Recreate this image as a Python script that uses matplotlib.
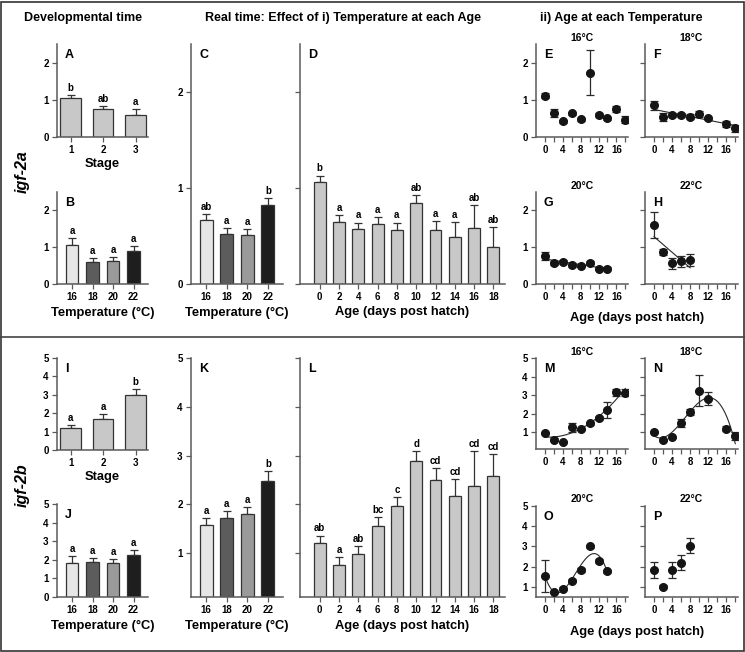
import numpy as np
import matplotlib
matplotlib.use('Agg')
from matplotlib import pyplot as plt
from matplotlib import transforms
from matplotlib.patches import Rectangle
from matplotlib.lines import Line2D

plt.rcParams.update({'font.family': 'Liberation Sans',
                     'font.weight': 'bold',
                     'axes.labelweight': 'bold'})

W, H = 745, 652
SPINE = '#5a5a5a'
EDGE = '#333333'

#---- Data

stages = ['1', '2', '3']
temps = ['16', '18', '20', '22']
ages = [0, 2, 4, 6, 8, 10, 12, 14, 16, 18]

# igf-2a
a_mean = [1.05, 0.75, 0.60]
a_err = [0.09, 0.09, 0.15]
a_sig = ['b', 'ab', 'a']

b_mean = [1.07, 0.59, 0.62, 0.89]
b_err = [0.17, 0.11, 0.11, 0.13]
b_sig = ['a', 'a', 'a', 'a']

c_mean = [0.67, 0.52, 0.51, 0.82]
c_err = [0.06, 0.06, 0.06, 0.08]
c_sig = ['ab', 'a', 'a', 'b']

d_mean = [1.06, 0.65, 0.57, 0.63, 0.56, 0.84, 0.56, 0.49, 0.58, 0.39]
d_err = [0.07, 0.07, 0.07, 0.07, 0.08, 0.09, 0.10, 0.16, 0.24, 0.20]
d_sig = ['b', 'a', 'a', 'a', 'a', 'ab', 'a', 'a', 'ab', 'ab']

e_x = [0, 2, 4, 6, 8, 10, 12, 14, 16, 18]
e_y = [1.11, 0.64, 0.42, 0.64, 0.48, 1.73, 0.59, 0.51, 0.75, 0.47]
e_e = [0.07, 0.10, 0.04, 0.04, 0.04, 0.60, 0.05, 0.04, 0.09, 0.10]

f_x = [0, 2, 4, 6, 8, 10, 12, 16, 18]
f_y = [0.85, 0.53, 0.59, 0.60, 0.55, 0.63, 0.50, 0.36, 0.23]
f_e = [0.12, 0.11, 0.05, 0.05, 0.07, 0.08, 0.05, 0.08, 0.10]

g_x = [0, 2, 4, 6, 8, 10, 12, 14]
g_y = [0.77, 0.57, 0.59, 0.51, 0.50, 0.58, 0.42, 0.42]
g_e = [0.11, 0.05, 0.05, 0.05, 0.04, 0.05, 0.05, 0.05]

h_x = [0, 2, 4, 6, 8]
h_y = [1.60, 0.86, 0.57, 0.62, 0.66]
h_e = [0.35, 0.08, 0.15, 0.15, 0.16]

# igf-2b
i_mean = [1.20, 1.70, 3.00]
i_err = [0.17, 0.23, 0.30]
i_sig = ['a', 'a', 'b']

j_mean = [1.85, 1.90, 1.85, 2.27]
j_err = [0.35, 0.20, 0.20, 0.27]
j_sig = ['a', 'a', 'a', 'a']

k_mean = [1.57, 1.72, 1.80, 2.48]
k_err = [0.14, 0.14, 0.15, 0.21]
k_sig = ['a', 'a', 'a', 'b']

l_mean = [1.20, 0.76, 0.98, 1.56, 1.96, 2.88, 2.49, 2.17, 2.37, 2.58]
l_err = [0.16, 0.16, 0.16, 0.17, 0.18, 0.22, 0.26, 0.35, 0.72, 0.46]
l_sig = ['ab', 'a', 'ab', 'bc', 'c', 'd', 'cd', 'cd', 'cd', 'cd']

m_x = [0, 2, 4, 6, 8, 10, 12, 14, 16, 18]
m_y = [0.94, 0.61, 0.49, 1.26, 1.17, 1.48, 1.78, 2.20, 3.15, 3.13]
m_e = [0.05, 0.06, 0.04, 0.22, 0.06, 0.10, 0.10, 0.41, 0.20, 0.20]

n_x = [0, 2, 4, 6, 8, 10, 12, 16, 18]
n_y = [1.00, 0.58, 0.72, 1.51, 2.09, 3.24, 2.81, 1.20, 0.79]
n_e = [0.05, 0.05, 0.05, 0.20, 0.15, 0.85, 0.35, 0.15, 0.20]

o_x = [0, 2, 4, 6, 8, 10, 12, 14]
o_y = [1.53, 0.77, 0.90, 1.31, 1.84, 3.00, 2.27, 1.77]
o_e = [0.79, 0.05, 0.07, 0.08, 0.10, 0.08, 0.10, 0.08]

p_x = [0, 2, 4, 6, 8]
p_y = [1.84, 1.00, 1.84, 2.20, 3.04]
p_e = [0.40, 0.07, 0.40, 0.38, 0.38]

bar_gray = '#c8c8c8'
temp_colors = ['#e6e6e6', '#5c5c5c', '#9a9a9a', '#1e1e1e']


#---- Helpers

fig = plt.figure(figsize=(W / 100, H / 100), dpi=100)


def add_axes(l, t, r, b):
    return fig.add_axes([l / W, 1 - b / H, (r - l) / W, (b - t) / H])


def ftext(x, y, s, **kw):
    return fig.text(x / W, 1 - y / H, s, **kw)


def style(ax):
    for s in ['top', 'right']:
        ax.spines[s].set_visible(False)
    for s in ['left', 'bottom']:
        ax.spines[s].set_color(SPINE)
        ax.spines[s].set_linewidth(1.1)
    ax.tick_params(direction='out', length=3.5, width=0.9, color=SPINE,
                   labelsize=7, pad=2.5)


def letter(ax, s):
    tr = transforms.offset_copy(ax.transAxes, fig=fig, x=8, y=-5, units='dots')
    ax.text(0, 1, s, transform=tr, ha='left', va='top', fontsize=9)


def bar_panel(ax, labels, means, errs, sigs, colors, width, xlim, ylim,
              yticks, ylabels=True):
    x = np.arange(len(means))
    ax.errorbar(x, means, yerr=[np.zeros(len(errs)), errs], fmt='none',
                ecolor=EDGE, elinewidth=0.9, capsize=2.8, capthick=0.9,
                zorder=1)
    ax.bar(x, means, width, color=colors, edgecolor=EDGE, linewidth=0.9,
           zorder=2)
    for xi, m, e, s in zip(x, means, errs, sigs):
        ax.annotate(s, (xi, m + e), xytext=(0, 1.5), textcoords='offset points',
                    ha='center', va='bottom', fontsize=7)
    ax.set_xticks(x)
    ax.set_xticklabels(labels)
    ax.set_xlim(*xlim)
    ax.set_ylim(*ylim)
    ax.set_yticks(yticks)
    if not ylabels:
        ax.set_yticklabels([])
    style(ax)


def point_panel(ax, x, y, e, deg, ylim, yticks, ylabels=True):
    ax.errorbar(x, y, yerr=e, fmt='o', color='#151515', ms=5.5,
                ecolor='#2a2a2a', elinewidth=0.9, capsize=3.2, capthick=0.9,
                zorder=3)
    if deg:
        c = np.polyfit(x, y, deg)
        xs = np.linspace(min(x), max(x), 200)
        ax.plot(xs, np.polyval(c, xs), color='#2a2a2a', lw=0.8, zorder=2)
    ax.set_xlim(-2, 18.6)
    ax.set_xticks(ages)
    ax.set_xticklabels([str(a) if a % 4 == 0 else '' for a in ages])
    ax.set_ylim(*ylim)
    ax.set_yticks(yticks)
    if not ylabels:
        ax.set_yticklabels([])
    style(ax)


#---- igf-2a

ax = add_axes(57, 44, 148, 137)
bar_panel(ax, stages, a_mean, a_err, a_sig, bar_gray, 0.63, (-0.42, 2.38),
          (0, 2.5), [0, 1, 2])
ax.set_xlabel('Stage', fontsize=9.3, labelpad=2)
letter(ax, 'A')

ax = add_axes(57, 192, 148, 284)
bar_panel(ax, temps, b_mean, b_err, b_sig, temp_colors, 0.62, (-0.73, 3.7),
          (0, 2.5), [0, 1, 2])
ax.set_xlabel('Temperature (°C)', fontsize=9.3, labelpad=3)
letter(ax, 'B')

ax = add_axes(191, 44, 283, 284)
bar_panel(ax, temps, c_mean, c_err, c_sig, temp_colors, 0.63, (-0.73, 3.73),
          (0, 2.5), [0, 1, 2])
ax.set_xlabel('Temperature (°C)', fontsize=9.3, labelpad=3)
letter(ax, 'C')

ax = add_axes(300, 44, 505, 284)
bar_panel(ax, [str(a) for a in ages], d_mean, d_err, d_sig, bar_gray, 0.62,
          (-1.02, 9.6), (0, 2.5), [0, 1, 2], ylabels=False)
ax.set_xlabel('Age (days post hatch)', fontsize=9.3, labelpad=3)
letter(ax, 'D')

ax = add_axes(536, 44, 628, 137)
point_panel(ax, e_x, e_y, e_e, 0, (0, 2.5), [0, 1, 2])
letter(ax, 'E')
ax = add_axes(645, 44, 738, 137)
point_panel(ax, f_x, f_y, f_e, 1, (0, 2.5), [0, 1, 2], ylabels=False)
letter(ax, 'F')
ax = add_axes(536, 192, 628, 284)
point_panel(ax, g_x, g_y, g_e, 1, (0, 2.5), [0, 1, 2])
letter(ax, 'G')
ax = add_axes(645, 192, 738, 284)
point_panel(ax, h_x, h_y, h_e, 1, (0, 2.5), [0, 1, 2], ylabels=False)
letter(ax, 'H')

#---- igf-2b

ax = add_axes(57, 358, 148, 450)
bar_panel(ax, stages, i_mean, i_err, i_sig, bar_gray, 0.63, (-0.42, 2.38),
          (0, 5), [0, 1, 2, 3, 4, 5])
ax.set_xlabel('Stage', fontsize=9.3, labelpad=2)
letter(ax, 'I')

ax = add_axes(57, 504, 148, 597)
bar_panel(ax, temps, j_mean, j_err, j_sig, temp_colors, 0.62, (-0.73, 3.7),
          (0, 5), [0, 1, 2, 3, 4, 5])
ax.set_xlabel('Temperature (°C)', fontsize=9.3, labelpad=3)
letter(ax, 'J')

ax = add_axes(191, 358, 283, 597)
bar_panel(ax, temps, k_mean, k_err, k_sig, temp_colors, 0.63, (-0.73, 3.73),
          (0.1, 5), [1, 2, 3, 4, 5])
ax.set_xlabel('Temperature (°C)', fontsize=9.3, labelpad=3)
letter(ax, 'K')

ax = add_axes(300, 358, 505, 597)
bar_panel(ax, [str(a) for a in ages], l_mean, l_err, l_sig, bar_gray, 0.62,
          (-1.02, 9.6), (0.1, 5), [1, 2, 3, 4, 5], ylabels=False)
ax.set_xlabel('Age (days post hatch)', fontsize=9.3, labelpad=3)
letter(ax, 'L')

ax = add_axes(536, 358, 628, 449)
point_panel(ax, m_x, m_y, m_e, 2, (0.1, 5), [1, 2, 3, 4, 5])
letter(ax, 'M')
ax = add_axes(645, 358, 738, 449)
point_panel(ax, n_x, n_y, n_e, 3, (0.1, 5), [1, 2, 3, 4, 5], ylabels=False)
letter(ax, 'N')
ax = add_axes(536, 506, 628, 597)
point_panel(ax, o_x, o_y, o_e, 4, (0.5, 5), [1, 2, 3, 4, 5])
letter(ax, 'O')
ax = add_axes(645, 506, 738, 597)
point_panel(ax, p_x, p_y, p_e, 0, (0.5, 5), [1, 2, 3, 4, 5], ylabels=False)
letter(ax, 'P')

#---- Headers, titles, frame

ftext(83, 18, 'Developmental time', ha='center', va='center', fontsize=9)
ftext(343, 18, 'Real time: Effect of i) Temperature at each Age',
      ha='center', va='center', fontsize=9)
ftext(621, 18, 'ii) Age at each Temperature', ha='center', va='center',
      fontsize=9)

for x, y, s in [(582, 38, '16°C'), (691, 38, '18°C'), (582, 186, '20°C'),
                (691, 186, '22°C'), (582, 352, '16°C'), (691, 352, '18°C'),
                (582, 499, '20°C'), (691, 499, '22°C')]:
    ftext(x, y, s, ha='center', va='center', fontsize=7.5)

ftext(637, 318, 'Age (days post hatch)', ha='center', va='center', fontsize=9.3)
ftext(637, 632, 'Age (days post hatch)', ha='center', va='center', fontsize=9.3)

ftext(22, 172, 'igf-2a', ha='center', va='center', rotation=90,
      fontsize=11.5, style='italic')
ftext(22, 485, 'igf-2b', ha='center', va='center', rotation=90,
      fontsize=11.5, style='italic')

fig.patches.append(Rectangle((1 / W, 1 / H), 1 - 2.5 / W, 1 - 2.5 / H,
                             transform=fig.transFigure, fill=False,
                             edgecolor='#333333', linewidth=1.2))
fig.lines.append(Line2D([0, 1], [1 - 337 / H, 1 - 337 / H],
                        transform=fig.transFigure, color='#444444',
                        linewidth=1.2))

fig.savefig('out.png', dpi=100)
